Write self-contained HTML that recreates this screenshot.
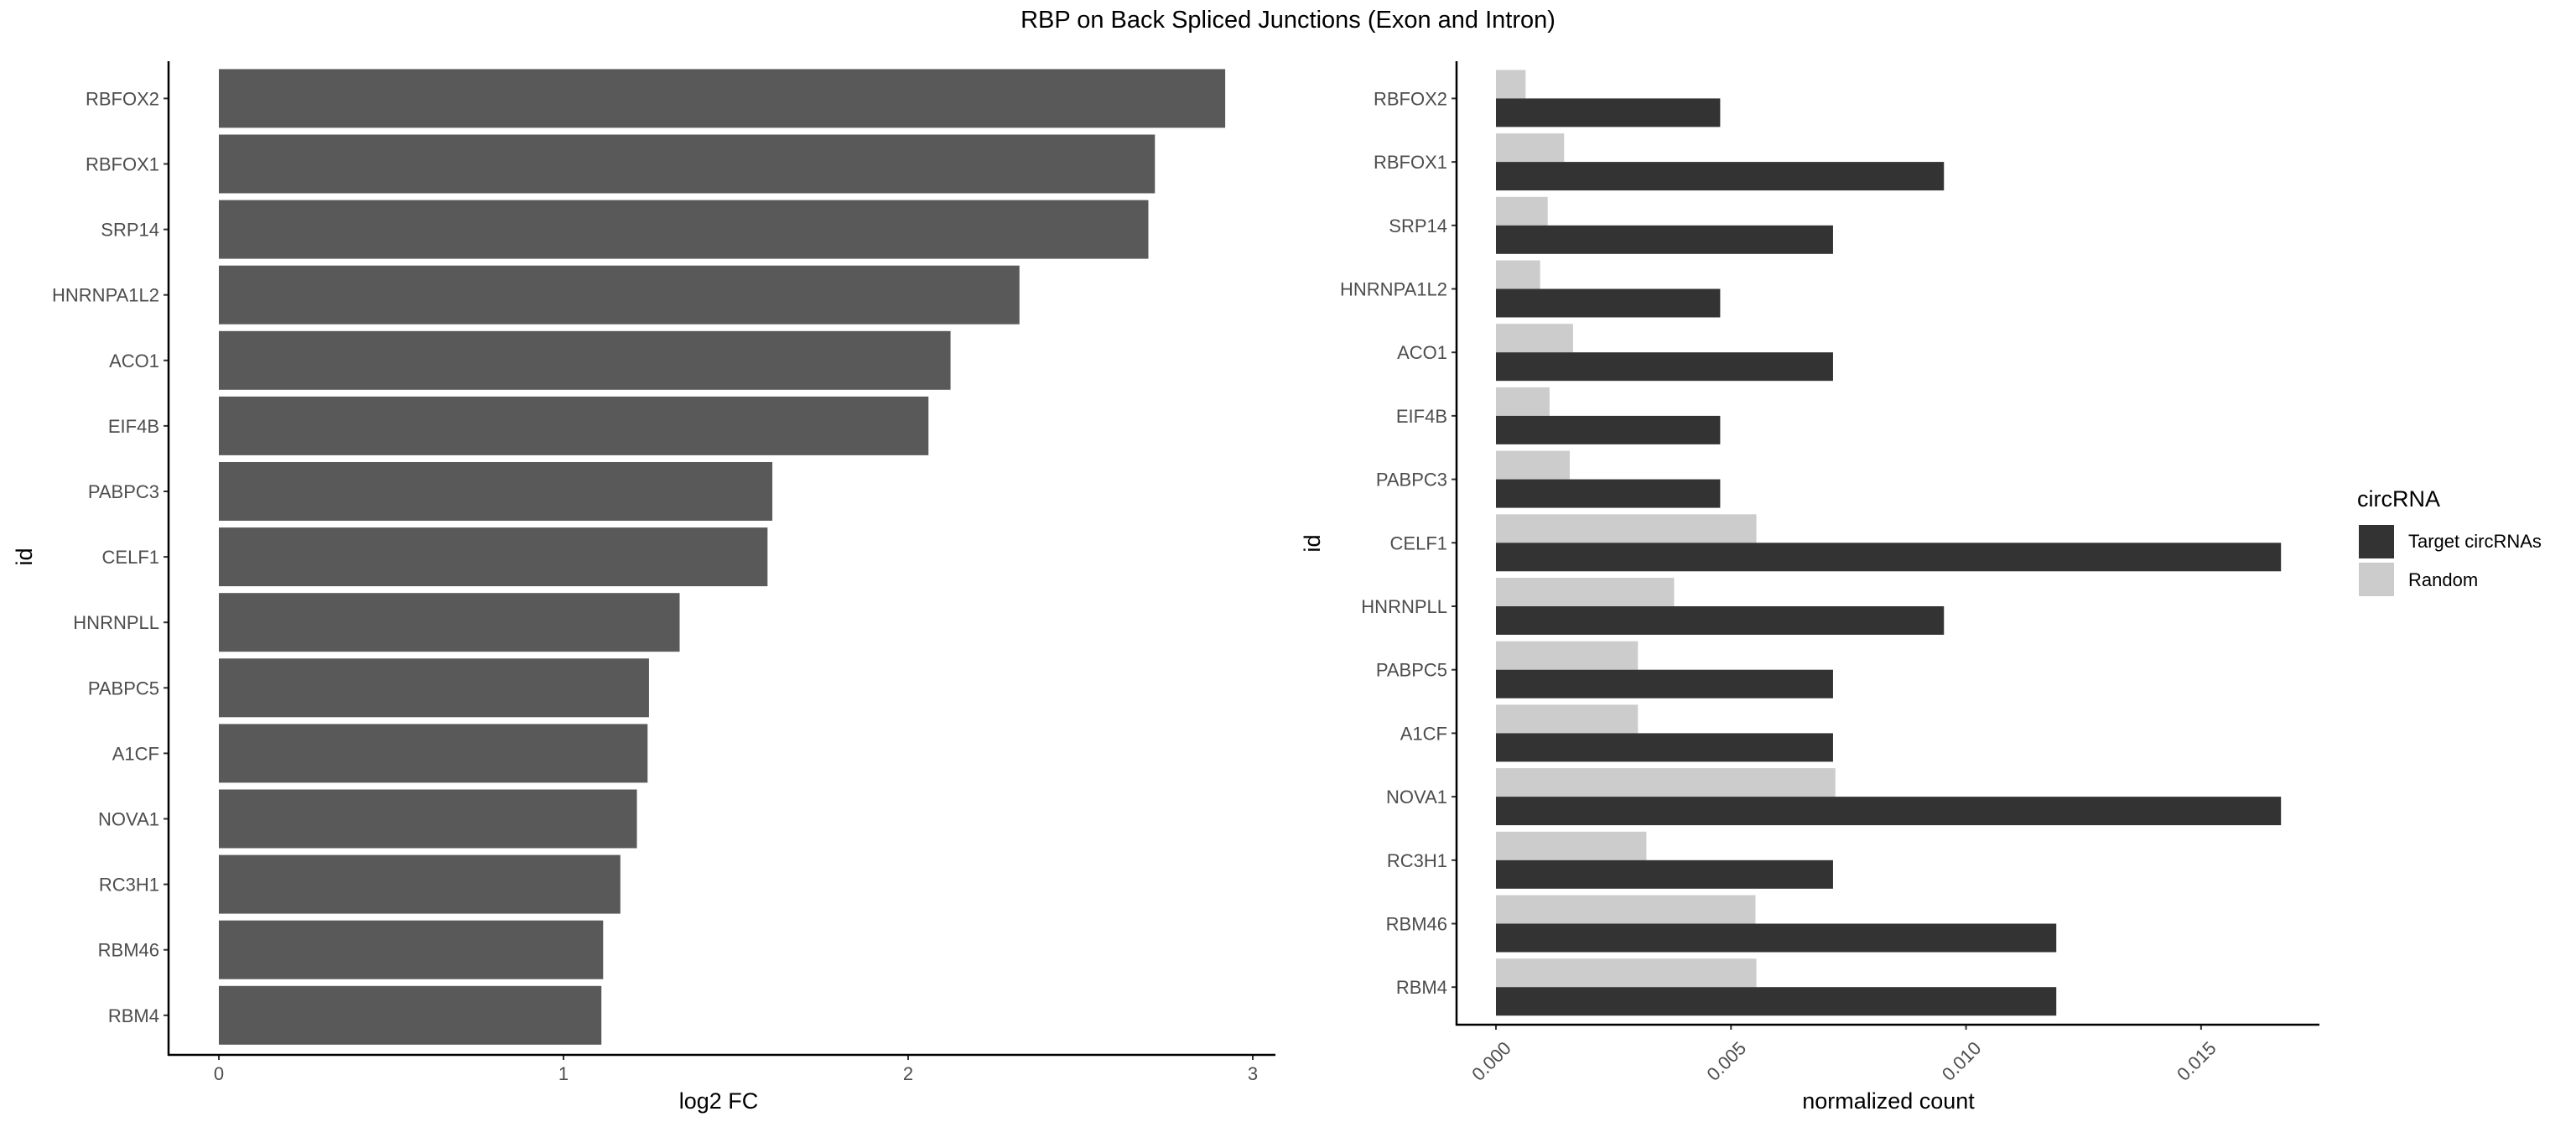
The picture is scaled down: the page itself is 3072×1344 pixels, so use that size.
<!DOCTYPE html>
<html><head><meta charset="utf-8"><style>
html,body{margin:0;padding:0;background:#fff;}
svg{display:block;font-family:"Liberation Sans",Arial,sans-serif;}
</style></head><body>
<svg id="chart" width="3072" height="1344" viewBox="0 0 3072 1344" xmlns="http://www.w3.org/2000/svg">
<rect width="3072" height="1344" fill="#fff"/>
<text x="1536" y="33" font-size="29" text-anchor="middle" fill="#000">RBP on Back Spliced Junctions (Exon and Intron)</text>
<g id="left"></g>
<g id="right"></g>
<g id="legend">
<text x="2811" y="604" font-size="27" fill="#000">circRNA</text>
<rect x="2813" y="626" width="42" height="40" fill="#333333"/>
<rect x="2813" y="671" width="42" height="40" fill="#cccccc"/>
<text x="2872" y="653" font-size="22" fill="#000">Target circRNAs</text>
<text x="2872" y="699" font-size="22" fill="#000">Random</text>
</g>
</svg>
<script>
const categories = ["RBFOX2","RBFOX1","SRP14","HNRNPA1L2","ACO1","EIF4B","PABPC3","CELF1","HNRNPLL","PABPC5","A1CF","NOVA1","RC3H1","RBM46","RBM4"];
const log2fc = [2.92,2.716,2.697,2.323,2.123,2.059,1.606,1.592,1.337,1.248,1.244,1.213,1.165,1.115,1.110];
const targetCounts = [0.00477,0.00953,0.00717,0.00477,0.00717,0.00477,0.00477,0.0167,0.00953,0.00717,0.00717,0.0167,0.00717,0.01192,0.01192];
const randomCounts = [0.00063,0.00145,0.0011,0.00094,0.00164,0.00114,0.00157,0.00554,0.00379,0.00302,0.00302,0.00722,0.0032,0.00552,0.00554];
const leftTicks = [0,1,2,3];
const leftTickLabels = ["0","1","2","3"];
const rightTicks = [0,0.005,0.01,0.015];
const rightTickLabels = ["0.000","0.005","0.010","0.015"];

const NS = "http://www.w3.org/2000/svg";
function mk(parent, tag, attrs, text){
  const e = document.createElementNS(NS, tag);
  for (const k in attrs) e.setAttribute(k, attrs[k]);
  if (text !== undefined) e.textContent = text;
  parent.appendChild(e);
  return e;
}
// Left panel
const L = document.getElementById('left');
const lx = v => 261 + v * 411;
const ly = i => 117.4 + i * 78.1;
categories.forEach((c, i) => {
  const r = mk(L, 'rect', {x: lx(0), y: ly(i) - 35, width: lx(log2fc[i]) - lx(0), height: 70, fill: '#595959'});
  
  
  const t = mk(L, 'text', {x: 190, y: ly(i) + 8, 'font-size': 22, 'text-anchor': 'end', fill: '#4d4d4d'}, c);
  
  
  mk(L, 'line', {x1: 195, x2: 201, y1: ly(i), y2: ly(i), stroke: '#333', 'stroke-width': 2});
});
leftTicks.forEach((v, i) => {
  mk(L, 'line', {x1: lx(v), x2: lx(v), y1: 1258, y2: 1264, stroke: '#333', 'stroke-width': 2});
  const t = mk(L, 'text', {x: lx(v), y: 1288, 'font-size': 22, 'text-anchor': 'middle', fill: '#4d4d4d'}, leftTickLabels[i]);
  
  
});
mk(L, 'line', {x1: 201, x2: 201, y1: 73, y2: 1259, stroke: '#000', 'stroke-width': 2.5});
mk(L, 'line', {x1: 200, x2: 1521, y1: 1258, y2: 1258, stroke: '#000', 'stroke-width': 2.5});
let at = mk(L, 'text', {x: 857, y: 1322, 'font-size': 27, 'text-anchor': 'middle', fill: '#000'}, 'log2 FC');


at = mk(L, 'text', {x: 38, y: 664, 'font-size': 27, 'text-anchor': 'middle', fill: '#000', transform: 'rotate(-90 38 664)'}, 'id');



// Right panel
const R = document.getElementById('right');
const rx = v => 1784 + v * (280.3 / 0.005);
const ry = i => 117.4 + i * 75.7;
categories.forEach((c, i) => {
  const r1 = mk(R, 'rect', {x: rx(0), y: ry(i) - 34, width: rx(randomCounts[i]) - rx(0), height: 34, fill: '#cccccc'});
  
  
  const r2 = mk(R, 'rect', {x: rx(0), y: ry(i), width: rx(targetCounts[i]) - rx(0), height: 34, fill: '#333333'});
  
  
  const t = mk(R, 'text', {x: 1726, y: ry(i) + 8, 'font-size': 22, 'text-anchor': 'end', fill: '#4d4d4d'}, c);
  
  
  mk(R, 'line', {x1: 1731, x2: 1737, y1: ry(i), y2: ry(i), stroke: '#333', 'stroke-width': 2});
});
rightTicks.forEach((v, i) => {
  mk(R, 'line', {x1: rx(v), x2: rx(v), y1: 1222, y2: 1228, stroke: '#333', 'stroke-width': 2});
  const x = rx(v) + 8, y = 1240;
  const t = mk(R, 'text', {x: x, y: y, 'font-size': 22, 'text-anchor': 'end', fill: '#4d4d4d', transform: 'rotate(-45 ' + x + ' ' + y + ')', 'dominant-baseline': 'hanging'}, rightTickLabels[i]);
  
  
});
mk(R, 'line', {x1: 1737, x2: 1737, y1: 73, y2: 1223, stroke: '#000', 'stroke-width': 2.5});
mk(R, 'line', {x1: 1736, x2: 2766, y1: 1222, y2: 1222, stroke: '#000', 'stroke-width': 2.5});
at = mk(R, 'text', {x: 2252, y: 1322, 'font-size': 27, 'text-anchor': 'middle', fill: '#000'}, 'normalized count');


at = mk(R, 'text', {x: 1574, y: 648, 'font-size': 27, 'text-anchor': 'middle', fill: '#000', transform: 'rotate(-90 1574 648)'}, 'id');


</script>
</body></html>
